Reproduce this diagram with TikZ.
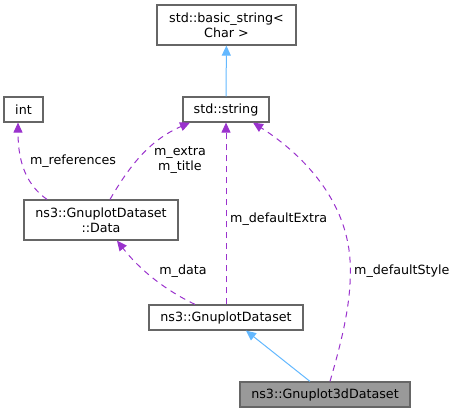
\documentclass[tikz,border=0pt]{standalone}
\usepackage{fontspec}
\setmainfont{DejaVu Sans}
\usetikzlibrary{arrows.meta}
\definecolor{boxline}{HTML}{666666}
\definecolor{boxgray}{HTML}{999999}
\definecolor{inhblue}{HTML}{63B8FF}
\definecolor{usepurple}{HTML}{9A32CD}
\tikzset{
  classbox/.style={draw=boxline, line width=1.2pt, fill=white, inner sep=0pt, align=center, font=\fontsize{12.7}{15}\selectfont},
  inherit/.style={draw=inhblue, line width=1pt, -{Triangle[length=10pt,width=9pt]}},
  uses/.style={draw=usepurple, line width=1pt, dash pattern=on 6pt off 5pt, -{Triangle[length=10pt,width=9pt]}},
  edgelabel/.style={font=\fontsize{12.7}{15}\selectfont, align=center, inner sep=0pt}
}
\begin{document}
\begin{tikzpicture}[x=1pt,y=-1pt]
\useasboundingbox (0,0) rectangle (460,413);
%Classes
\node[classbox, minimum width=139pt, minimum height=40pt] (basic) at (226.5,25) {std::basic\_string<\\Char >};
\node[classbox, minimum width=86pt, minimum height=25pt] (string) at (226,109.5) {std::string};
\node[classbox, minimum width=39pt, minimum height=25pt] (int) at (23.5,109.5) {int};
\node[classbox, minimum width=154pt, minimum height=40pt] (data) at (101,220) {ns3::GnuplotDataset\\::Data};
\node[classbox, minimum width=154pt, minimum height=25pt] (dataset) at (226,317.5) {ns3::GnuplotDataset};
\node[classbox, fill=boxgray, minimum width=170pt, minimum height=25pt] (dataset3d) at (325,394.5) {ns3::Gnuplot3dDataset};

%Heritage
\draw[inherit] (string) -- (basic);
\draw[inherit] ([xshift=-15pt]dataset3d.north) -- ([xshift=20pt]dataset.south);

%Membres
\draw[uses] ([xshift=-54pt]data.north) .. controls (28,186) and (18,165) .. ([xshift=-5.5pt]int.south);
\draw[uses] ([xshift=9pt]data.north) .. controls (130,165) and (150,140) .. ([xshift=-36pt]string.south);
\draw[uses] (dataset.north) -- (string.south);
\draw[uses] ([xshift=-31pt]dataset.north) .. controls (165,290) and (140,270) .. ([xshift=16pt]data.south);
\draw[uses] ([xshift=5pt]dataset3d.north) .. controls (345,330) and (352,295) .. (350,260)
  .. controls (346,195) and (296,150) .. ([xshift=27pt]string.south);

%Etiquettes
\node[edgelabel] (lref) at (73,161) {m\_references};
\node[edgelabel] (lextra) at (180,160) {m\_extra\\m\_title};
\node[edgelabel, anchor=west] (ldefextra) at (230,219) {m\_defaultExtra};
\node[edgelabel] (ldata) at (183,271) {m\_data};
\node[edgelabel, anchor=west] (ldefstyle) at (354,271) {m\_defaultStyle};
\end{tikzpicture}
\end{document}
